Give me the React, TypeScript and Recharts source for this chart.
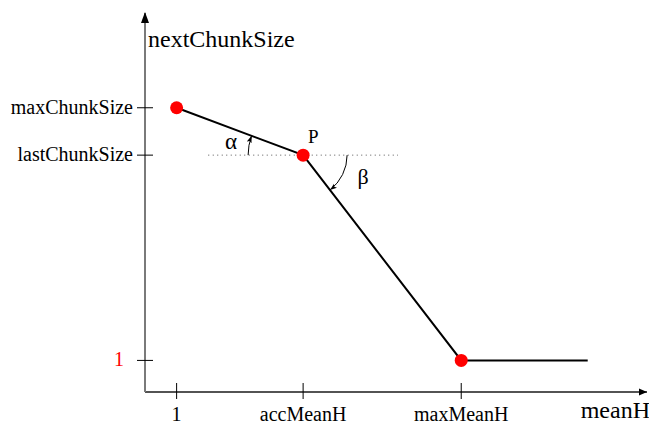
import React from 'react';
import { LineChart, Line, XAxis, YAxis, ReferenceLine, ReferenceDot } from 'recharts';

// Piecewise chunk-size rule: nextChunkSize as a function of meanH
const meanHValues = [1, 9, 19, 27];
const nextChunkSizeValues = [17, 14, 1, 1];
const markedPointIndices = [0, 1, 2];

const xTickValues = [1, 9, 19];
const xTickLabels = ['1', 'accMeanH', 'maxMeanH'];
const yTickValues = [1, 14, 17];
const yTickLabels = ['1', 'lastChunkSize', 'maxChunkSize'];

const xDomain: [number, number] = [-1, 30.75];
const yDomain: [number, number] = [-1, 23];

// horizontal guide through P at lastChunkSize
const guideStartX = 3;
const guideEndX = 15;
const guideY = 14;

const pointIndexP = 1;

const data = meanHValues.map((x, i) => ({ x, y: nextChunkSizeValues[i] }));

const FONT = '"Liberation Serif", "DejaVu Serif", serif';

const YTick = (props: any) => {
  const { x, y, payload } = props;
  const i = yTickValues.indexOf(payload.value);
  const isOne = payload.value === 1;
  return (
    <g>
      <line x1={x - 8} x2={x + 8} y1={y} y2={y} stroke="#000" strokeWidth={1} />
      <text
        x={isOne ? x - 21 : x - 12}
        y={y + 6}
        textAnchor="end"
        fontSize={20}
        fontFamily={FONT}
        fill={isOne ? '#ff0000' : '#000'}
      >
        {yTickLabels[i]}
      </text>
    </g>
  );
};

const XTick = (props: any) => {
  const { x, y, payload } = props;
  const i = xTickValues.indexOf(payload.value);
  return (
    <g>
      <line x1={x} x2={x} y1={y - 9} y2={y + 7} stroke="#000" strokeWidth={1} />
      <text x={x} y={y + 29} textAnchor="middle" fontSize={20} fontFamily={FONT} fill="#000">
        {xTickLabels[i]}
      </text>
    </g>
  );
};

const UpArrow = (props: any) => {
  const { cx, cy } = props;
  return <path d={`M${cx},${cy - 1} L${cx - 4},${cy + 10} L${cx + 4},${cy + 10} Z`} fill="#000" />;
};

const RightArrow = (props: any) => {
  const { cx, cy } = props;
  return <path d={`M${cx},${cy} L${cx - 8},${cy - 3.5} L${cx - 8},${cy + 3.5} Z`} fill="#000" />;
};

// angle arc around (cx, cy) from startAngle to endAngle (radians, screen coords)
const arcPath = (cx: number, cy: number, r: number, a0: number, a1: number) => {
  const x0 = cx + r * Math.cos(a0);
  const y0 = cy + r * Math.sin(a0);
  const x1 = cx + r * Math.cos(a1);
  const y1 = cy + r * Math.sin(a1);
  const sweep = a1 > a0 ? 1 : 0;
  return `M${x0},${y0} A${r},${r} 0 0 ${sweep} ${x1},${y1}`;
};

const ChunkDot = (props: any) => {
  const { cx, cy, index, points } = props;
  if (!markedPointIndices.includes(index)) return <g />;
  let annotations = null;
  if (index === pointIndexP && points && points.length > index + 1) {
    const prev = points[index - 1];
    const next = points[index + 1];
    let aPrev = Math.atan2(prev.y - cy, prev.x - cx);
    if (aPrev < 0) aPrev += 2 * Math.PI;
    const aNext = Math.atan2(next.y - cy, next.x - cx);
    annotations = (
      <g>
        <defs>
          <marker
            id="angleArrow"
            markerUnits="userSpaceOnUse"
            markerWidth={8}
            markerHeight={6}
            refX={7}
            refY={3}
            orient="auto"
          >
            <path d="M0,0.5 L7,3 L0,5.5 L1.5,3 Z" fill="#000" />
          </marker>
        </defs>
        <path
          d={arcPath(cx, cy, 55, Math.PI, aPrev)}
          fill="none"
          stroke="#000"
          strokeWidth={1}
          markerEnd="url(#angleArrow)"
        />
        <path
          d={arcPath(cx, cy, 44, 0, aNext)}
          fill="none"
          stroke="#000"
          strokeWidth={1}
          markerEnd="url(#angleArrow)"
        />
        <text x={cx + 5} y={cy - 12} fontSize={19} fontFamily={FONT} fill="#000">
          P
        </text>
        <text x={cx - 72} y={cy - 6} textAnchor="middle" fontSize={23} fontFamily={FONT} fill="#000">
          α
        </text>
        <text x={cx + 60} y={cy + 29} textAnchor="middle" fontSize={22} fontFamily={FONT} fill="#000">
          β
        </text>
      </g>
    );
  }
  return (
    <g>
      {annotations}
      <circle cx={cx} cy={cy} r={6.5} fill="#ff0000" stroke="none" />
    </g>
  );
};

export default function App() {
  return (
    <div style={{ position: 'absolute', left: 0, top: 0, width: 649, height: 426, background: '#fff' }}>
      <LineChart
        width={649}
        height={426}
        data={data}
        margin={{ top: 13, right: 2, bottom: 0, left: 0 }}
      >
        <XAxis
          type="number"
          dataKey="x"
          domain={xDomain}
          ticks={xTickValues}
          interval={0}
          allowDataOverflow
          height={34}
          tickSize={0}
          tickMargin={0}
          tickLine={false}
          tick={<XTick />}
          axisLine={{ stroke: '#1a1a1a', strokeWidth: 1.5 }}
          label={{
            content: (p: any) => {
              const vb = p.viewBox || { x: 145, y: 392, width: 502, height: 34 };
              return (
                <text x={vb.x + vb.width + 3} y={vb.y + 26} textAnchor="end" fontSize={24} fontFamily={FONT} fill="#000">
                  meanH
                </text>
              );
            },
          }}
        />
        <YAxis
          type="number"
          dataKey="y"
          domain={yDomain}
          ticks={yTickValues}
          interval={0}
          allowDataOverflow
          width={145}
          tickSize={0}
          tickMargin={0}
          tickLine={false}
          tick={<YTick />}
          axisLine={{ stroke: '#7a7a7a', strokeWidth: 2 }}
          label={{
            content: (p: any) => {
              const vb = p.viewBox || { x: 0, y: 13, width: 145, height: 379 };
              return (
                <text x={vb.x + vb.width + 3} y={vb.y + 34} textAnchor="start" fontSize={24} fontFamily={FONT} fill="#000">
                  nextChunkSize
                </text>
              );
            },
          }}
        />
        <ReferenceLine
          segment={[
            { x: guideStartX, y: guideY },
            { x: guideEndX, y: guideY },
          ]}
          stroke="#555"
          strokeWidth={1}
          strokeDasharray="1 3.5"
          ifOverflow="visible"
        />
        <Line
          type="linear"
          dataKey="y"
          stroke="#000"
          strokeWidth={2}
          dot={(p: any) => <ChunkDot key={`dot-${p.index}`} {...p} />}
          activeDot={false}
          isAnimationActive={false}
        />
        <ReferenceDot x={xDomain[0]} y={yDomain[1]} r={4} shape={UpArrow} ifOverflow="visible" />
        <ReferenceDot x={xDomain[1]} y={yDomain[0]} r={4} shape={RightArrow} ifOverflow="visible" />
      </LineChart>
    </div>
  );
}
